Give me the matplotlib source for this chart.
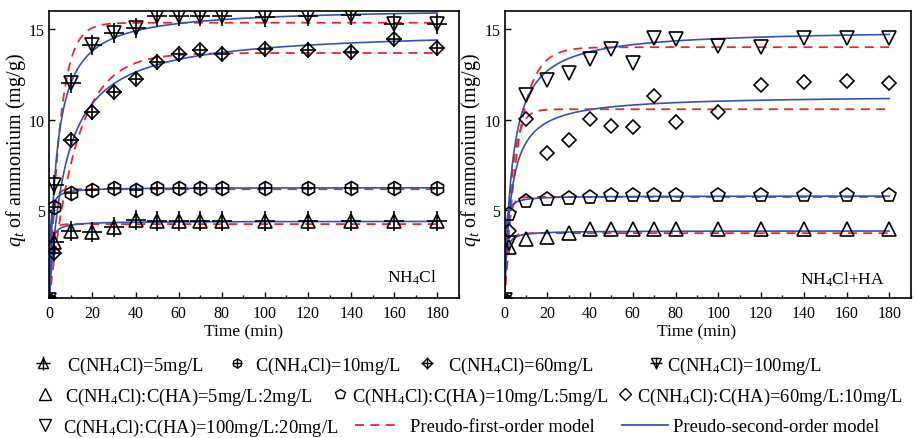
import numpy as np
import matplotlib
matplotlib.use('Agg')
import matplotlib.pyplot as plt
from matplotlib.lines import Line2D
from matplotlib.ticker import MultipleLocator

plt.rcParams['font.family'] = ['Liberation Serif', 'DejaVu Serif']
plt.rcParams['mathtext.fontset'] = 'custom'
plt.rcParams['mathtext.rm'] = 'Liberation Serif'
plt.rcParams['mathtext.it'] = 'Liberation Serif:italic'

# sampling times (min)
t = [0, 2, 10, 20, 30, 40, 50, 60, 70, 80, 100, 120, 140, 160, 180]

# NH4Cl only (mg/g)
q_5 = [0, 3.25, 3.86, 3.77, 4.04, 4.45, 4.41, 4.41, 4.41, 4.41, 4.41, 4.41, 4.41, 4.41, 4.41]
q_10 = [0, 5.15, 5.94, 6.10, 6.20, 6.10, 6.22, 6.22, 6.22, 6.22, 6.22, 6.22, 6.22, 6.22, 6.22]
q_60 = [0, 2.60, 8.86, 10.42, 11.53, 12.26, 13.18, 13.64, 13.84, 13.60, 13.88, 13.84, 13.75, 14.47, 13.97]
q_100 = [0, 6.40, 12.04, 14.10, 14.80, 15.07, 15.75, 15.75, 15.75, 15.72, 15.68, 15.75, 15.80, 15.26, 15.26]

# NH4Cl + HA (mg/g)
r_5 = [0, 2.95, 3.42, 3.53, 3.75, 3.93, 3.93, 3.93, 3.93, 3.93, 3.93, 3.93, 3.93, 3.93, 3.93]
r_10 = [0, 4.80, 5.50, 5.59, 5.68, 5.74, 5.81, 5.81, 5.81, 5.81, 5.81, 5.81, 5.81, 5.81, 5.81]
r_60 = [0, 3.85, 10.04, 8.13, 8.86, 10.04, 9.67, 9.60, 11.29, 9.85, 10.40, 11.93, 12.08, 12.11, 12.02]
r_100 = [0, 3.20, 11.38, 12.20, 12.60, 13.35, 13.90, 13.12, 14.50, 14.45, 14.04, 13.99, 14.50, 14.50, 14.50]

# fitted model parameters
pfo_qe_l = [4.22, 6.15, 13.68, 15.35]
pfo_k1_l = [0.8, 0.7, 0.08, 0.2]
pso_qe_l = [4.38, 6.24, 15.0, 16.2]
pso_k2_l = [0.45, 0.45, 0.00884, 0.0177]

pfo_qe_r = [3.72, 5.72, 10.57, 14.0]
pfo_k1_r = [0.6, 0.6, 0.3, 0.15]
pso_qe_r = [3.85, 5.78, 11.35, 15.0]
pso_k2_r = [0.5, 0.5, 0.029, 0.0183]

labels_l = ['C(NH$_4$Cl)=5mg/L', 'C(NH$_4$Cl)=10mg/L', 'C(NH$_4$Cl)=60mg/L', 'C(NH$_4$Cl)=100mg/L']
labels_r = ['C(NH$_4$Cl):C(HA)=5mg/L:2mg/L', 'C(NH$_4$Cl):C(HA)=10mg/L:5mg/L',
            'C(NH$_4$Cl):C(HA)=60mg/L:10mg/L', 'C(NH$_4$Cl):C(HA)=100mg/L:20mg/L']

RED = '#e8282c'
BLUE = '#3552b0'
DASH = (0, (5, 3.5))

W, H, DPI = 917, 439, 100
fig = plt.figure(figsize=(W / DPI, H / DPI), dpi=DPI)
fig.set_facecolor('white')

ax1 = fig.add_axes([49.3 / W, 1 - 299.3 / H, 409.7 / W, 287.3 / H])
ax2 = fig.add_axes([504.5 / W, 1 - 299.3 / H, 406.2 / W, 287.3 / H])

# marker, size, plus-overlay size
mk_l = [('^', 10, 15), ('h', 10, 10), ('D', 7.5, 12), ('v', 10, 15)]
mk_r = [('^', 10), ('p', 10), ('D', 7.5), ('v', 10)]

tt = np.linspace(0, 180, 500)


def pfo(qe, k):
    return qe * (1 - np.exp(-k * tt))


def pso(qe, k):
    return qe * qe * k * tt / (1 + qe * k * tt)


for qe, k in zip(pfo_qe_l, pfo_k1_l):
    ax1.plot(tt, pfo(qe, k), color=RED, lw=1.3, ls=DASH, zorder=2)
for qe, k in zip(pso_qe_l, pso_k2_l):
    ax1.plot(tt, pso(qe, k), color=BLUE, lw=1.2, zorder=2)
for qe, k in zip(pfo_qe_r, pfo_k1_r):
    ax2.plot(tt, pfo(qe, k), color=RED, lw=1.3, ls=DASH, zorder=2)
for qe, k in zip(pso_qe_r, pso_k2_r):
    ax2.plot(tt, pso(qe, k), color=BLUE, lw=1.2, zorder=2)

for q, (m, ms, ps) in zip([q_5, q_10, q_60, q_100], mk_l):
    ax1.plot(t, q, ls='none', marker=m, ms=ms, mfc='none', mec='black', mew=1.2, zorder=3)
    ax1.plot(t, q, ls='none', marker='+', ms=ps, mec='black', mew=1.2, zorder=3)

for q, (m, ms) in zip([r_5, r_10, r_60, r_100], mk_r):
    ax2.plot(t, q, ls='none', marker=m, ms=ms, mfc='none', mec='black', mew=1.2, zorder=3)

for ax, xl in [(ax1, 'NH$_4$Cl'), (ax2, 'NH$_4$Cl+HA')]:
    ax.set_xlim(0, 190)
    ax.set_ylim(0.12, 16)
    ax.set_xticks(range(0, 181, 20))
    ax.xaxis.set_minor_locator(MultipleLocator(10))
    ax.set_yticks([5, 10, 15])
    ax.tick_params(which='both', direction='in', top=False, right=False, labelsize=11.5, pad=5)
    ax.tick_params(which='major', length=4, width=1)
    ax.tick_params(which='minor', length=2.5, width=1)
    ax.tick_params(axis='y', pad=3)
    for s in ax.spines.values():
        s.set_linewidth(1.2)
    ax.set_xlabel('Time (min)', fontsize=12.5)
    ax.xaxis.set_label_coords(90 / 190, -0.086)
    ax.set_ylabel('$q_t$ of ammonium (mg/g)', fontsize=14.5)

ax1.yaxis.set_label_coords(-0.052, 0.52)
ax2.yaxis.set_label_coords(-0.052, 0.52)
ax1.text(0.946, 0.057, 'NH$_4$Cl', transform=ax1.transAxes, ha='right', va='baseline', fontsize=12.5)
ax2.text(0.937, 0.05, 'NH$_4$Cl+HA', transform=ax2.transAxes, ha='right', va='baseline', fontsize=12.5)

# legend below the panels, one entry at a time so each sits where it does in the figure
FS = 13.3
fs_px = FS * DPI / 72


def add_item(handle, label, x_start, x_text, y, hl):
    pad = (x_text - (x_start + hl * fs_px)) / fs_px
    fig.legend([handle], [label], loc='center left', bbox_to_anchor=(x_start / W, 1 - y / H),
               bbox_transform=fig.transFigure, frameon=False, borderpad=0, borderaxespad=0,
               handlelength=hl, handletextpad=pad, fontsize=FS, numpoints=1)


def mark(m, ms, plus=None):
    h = Line2D([], [], ls='none', marker=m, ms=ms, mfc='none', mec='black', mew=1.0)
    if plus is None:
        return h
    return (h, Line2D([], [], ls='none', marker='+', ms=plus, mec='black', mew=1.0))


hl = 1.0
row1 = [(mark('^', 7, 10), 43, 67), (mark('h', 6.5, 6.5), 237, 255),
        (mark('D', 5.5, 8.5), 427, 448), (mark('v', 6.5, 9), 656, 667)]
for (h, xm, xt), lab in zip(row1, labels_l):
    add_item(h, lab, xm - hl * fs_px / 2, xt, 366, hl)

row2 = [(mark('^', 8), 45, 65), (mark('p', 7.5), 340, 352), (mark('D', 6.5), 625, 637)]
for (h, xm, xt), lab in zip(row2, labels_r[:3]):
    add_item(h, lab, xm - hl * fs_px / 2, xt, 397, hl)

add_item(mark('v', 8), labels_r[3], 45 - hl * fs_px / 2, 63, 428, hl)
add_item(Line2D([], [], color=RED, lw=1.3, ls=DASH), 'Preudo-first-order model',
         355, 410, 428, 45 / fs_px)
add_item(Line2D([], [], color=BLUE, lw=1.3), 'Preudo-second-order model',
         622, 673, 428, 46 / fs_px)

fig.savefig('out.png', dpi=DPI, facecolor='white')
plt.close(fig)
